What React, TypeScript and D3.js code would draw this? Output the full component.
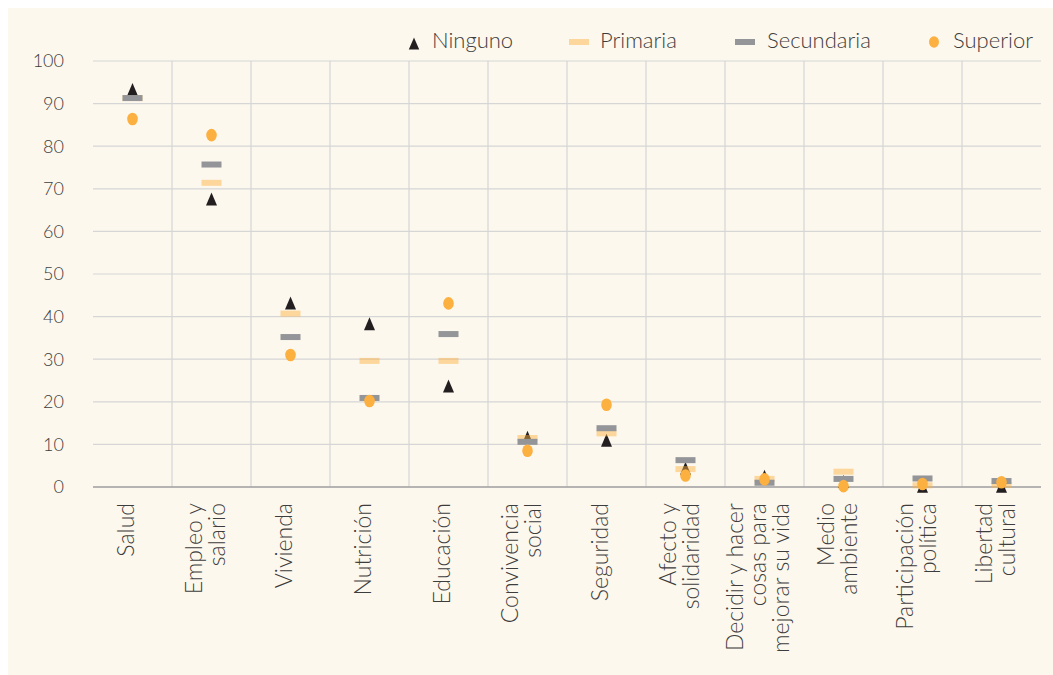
import React from "react";
import * as d3 from "d3";

const categories = [
  "Salud",
  "Empleo y\nsalario",
  "Vivienda",
  "Nutrición",
  "Educación",
  "Convivencia\nsocial",
  "Seguridad",
  "Afecto y\nsolidaridad",
  "Decidir y hacer\ncosas para\nmejorar su vida",
  "Medio\nambiente",
  "Participación\npolítica",
  "Libertad\ncultural",
];

const ninguno = [93.3, 67.6, 43.2, 38.3, 23.7, 11.7, 11.0, 4.4, 2.5, 1.3, 0.2, 0.2];
const primaria = [91.3, 71.4, 40.7, 29.6, 29.6, 11.5, 12.6, 4.2, 1.9, 3.6, 0.4, 0.5];
const secundaria = [91.3, 75.7, 35.2, 20.9, 35.9, 10.6, 13.8, 6.3, 1.0, 1.9, 2.0, 1.4];
const superior = [86.4, 82.6, 31.0, 20.2, 43.1, 8.5, 19.3, 2.7, 1.8, 0.2, 0.7, 1.1];

const yTicks = [0, 10, 20, 30, 40, 50, 60, 70, 80, 90, 100];
const legendLabels = ["Ninguno", "Primaria", "Secundaria", "Superior"];

const W = 1045;
const H = 667;
const BG = "#fdf8ed";
const TEXT = "#3d3d3d";
const GRID = "#d6d6d6";
const C_NIN = "#231f20";
const C_PRI = "#fbb040";
const C_SEC = "#939598";
const C_SUP = "#fbb040";
const FONT = "Lato, 'Open Sans', sans-serif";

const triPath = "M0,-6.5L5.5,6.5L-5.5,6.5Z";

export default function App() {
  const x = d3.scaleBand<string>().domain(categories).range([85, 1033]).padding(0);
  const y = d3.scaleLinear().domain([0, 100]).range([479, 53]);
  const cx = (c: string) => (x(c) as number) + x.bandwidth() / 2;
  const [x0, x1] = x.range();

  const legY = 34;
  const legTextY = 39.5;

  return (
    <svg
      width={W}
      height={H}
      style={{ position: "absolute", left: 8, top: 8, display: "block" }}
      fontFamily={FONT}
    >
      <rect x={0} y={0} width={W} height={H} fill={BG} />

      {/* horizontal gridlines */}
      {yTicks.map((t) => (
        <line key={"h" + t} x1={x0} x2={x1} y1={y(t)} y2={y(t)} stroke={GRID} strokeWidth={1.2} />
      ))}
      {/* vertical gridlines (interior band boundaries) */}
      {categories.slice(1).map((c) => (
        <line key={"v" + c} x1={x(c)} x2={x(c)} y1={y(100)} y2={y(0)} stroke={GRID} strokeWidth={1.2} />
      ))}
      {/* x axis baseline */}
      <line x1={x0} x2={x1} y1={y(0)} y2={y(0)} stroke="#a3a3a3" strokeWidth={1.6} />

      {/* y tick labels */}
      {yTicks.map((t) => (
        <text
          key={"yt" + t}
          x={56}
          y={y(t)}
          dy="0.35em"
          textAnchor="end"
          fontSize={18}
          fontWeight={300}
          fill={TEXT}
        >
          {t}
        </text>
      ))}

      {/* x labels */}
      {categories.map((c) => {
        const lines = c.split("\n");
        const n = lines.length;
        return (
          <g key={"xl" + c} transform={`translate(${cx(c)},${495}) rotate(-90)`}>
            {lines.map((ln, i) => (
              <text
                key={i}
                x={0}
                y={1.5 + (i - (n - 1) / 2) * 23}
                textAnchor="end"
                fontSize={23}
                fontWeight={300}
                fill={TEXT}
              >
                {ln}
              </text>
            ))}
          </g>
        );
      })}

      {/* markers */}
      {categories.map((c, i) => (
        <path key={"n" + c} d={triPath} transform={`translate(${cx(c)},${y(ninguno[i])})`} fill={C_NIN} />
      ))}
      {categories.map((c, i) => (
        <rect
          key={"p" + c}
          x={cx(c) - 10}
          y={y(primaria[i]) - 3}
          width={20}
          height={6}
          fill={C_PRI}
          fillOpacity={0.47}
        />
      ))}
      {categories.map((c, i) => (
        <rect key={"s" + c} x={cx(c) - 10} y={y(secundaria[i]) - 3} width={20} height={6} fill={C_SEC} />
      ))}
      {categories.map((c, i) => (
        <ellipse key={"u" + c} cx={cx(c)} cy={y(superior[i])} rx={5.3} ry={6.3} fill={C_SUP} />
      ))}

      {/* legend */}
      <g fontSize={22} fontWeight={300} fill={TEXT}>
        <path d="M0,-6L5.2,6L-5.2,6Z" transform={`translate(406,${legY + 1.5})`} fill={C_NIN} />
        <text x={424} y={legTextY}>{legendLabels[0]}</text>
        <rect x={561} y={legY - 3} width={20} height={6} fill={C_PRI} fillOpacity={0.47} />
        <text x={592} y={legTextY}>{legendLabels[1]}</text>
        <rect x={727} y={legY - 3} width={20} height={6} fill={C_SEC} />
        <text x={759} y={legTextY}>{legendLabels[2]}</text>
        <ellipse cx={926} cy={legY} rx={5} ry={5.8} fill={C_SUP} />
        <text x={945} y={legTextY}>{legendLabels[3]}</text>
      </g>
    </svg>
  );
}
